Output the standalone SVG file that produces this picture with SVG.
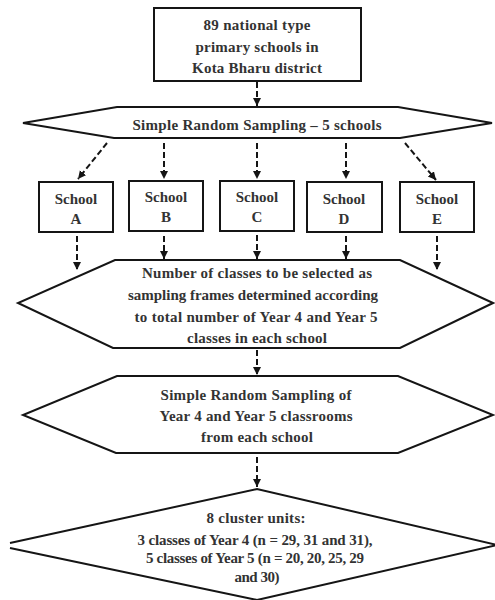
<svg xmlns="http://www.w3.org/2000/svg" width="495" height="600" viewBox="0 0 495 600">
<style>
.s{fill:#fff;stroke:#151515;stroke-width:2}
.t{font-family:"Liberation Serif","Times New Roman",serif;font-weight:bold;font-size:15px;fill:#333;text-anchor:middle}
.c{fill:none;stroke:#151515;stroke-width:2;stroke-dasharray:6 3}
</style>
<defs>
<marker id="ah" markerUnits="userSpaceOnUse" markerWidth="10" markerHeight="10" refX="8" refY="4" orient="auto">
<path d="M0,0 L8,4 L0,8 Z" fill="#151515"/>
</marker>
</defs>
<rect width="495" height="600" fill="#fff"/>
<g id="connectors">
<line class="c" x1="257" y1="82" x2="257" y2="106" marker-end="url(#ah)"/>
<line class="c" x1="107" y1="143" x2="78" y2="179" marker-end="url(#ah)"/>
<line class="c" x1="164" y1="143" x2="164" y2="179" marker-end="url(#ah)"/>
<line class="c" x1="257" y1="143" x2="257" y2="179" marker-end="url(#ah)"/>
<line class="c" x1="346" y1="143" x2="346" y2="179" marker-end="url(#ah)"/>
<line class="c" x1="405" y1="143" x2="436" y2="180" marker-end="url(#ah)"/>
<line class="c" x1="77" y1="236" x2="77" y2="270" marker-end="url(#ah)"/>
<line class="c" x1="164" y1="236" x2="164" y2="259" marker-end="url(#ah)"/>
<line class="c" x1="257" y1="235" x2="257" y2="259" marker-end="url(#ah)"/>
<line class="c" x1="346" y1="236" x2="346" y2="259" marker-end="url(#ah)"/>
<line class="c" x1="437" y1="236" x2="437" y2="270" marker-end="url(#ah)"/>
<line class="c" x1="257" y1="350" x2="257" y2="375" marker-end="url(#ah)"/>
<line class="c" x1="257" y1="457" x2="257" y2="487" marker-end="url(#ah)"/>
</g>
<g id="population">
<rect class="s" x="154" y="8" width="207" height="73"/>
<text class="t" x="257" y="30" textLength="107" lengthAdjust="spacing">89 national type</text>
<text class="t" x="257" y="52" textLength="123" lengthAdjust="spacing">primary schools in</text>
<text class="t" x="257" y="73" textLength="130" lengthAdjust="spacing">Kota Bharu district</text>
</g>
<g id="srs1">
<polygon class="s" points="117,107 398,107 492,123 400,138 114,138 23,123"/>
<text class="t" x="257" y="130" textLength="249" lengthAdjust="spacing">Simple Random Sampling – 5 schools</text>
</g>
<g id="schoolA">
<rect class="s" x="39" y="182" width="74" height="50"/>
<text class="t" x="76" y="204">School</text>
<text class="t" x="76" y="224">A</text>
</g>
<g id="schoolB">
<rect class="s" x="129" y="181" width="74" height="50"/>
<text class="t" x="166" y="202">School</text>
<text class="t" x="166" y="222">B</text>
</g>
<g id="schoolC">
<rect class="s" x="220" y="181" width="74" height="50"/>
<text class="t" x="257" y="202">School</text>
<text class="t" x="257" y="222">C</text>
</g>
<g id="schoolD">
<rect class="s" x="307" y="182" width="75" height="50"/>
<text class="t" x="344" y="204">School</text>
<text class="t" x="344" y="224">D</text>
</g>
<g id="schoolE">
<rect class="s" x="400" y="182" width="74" height="50"/>
<text class="t" x="437" y="204">School</text>
<text class="t" x="437" y="224">E</text>
</g>
<g id="frames">
<polygon class="s" points="115,260 400,260 493,303 400,348 113,348 18,303"/>
<text class="t" x="257" y="278" textLength="230" lengthAdjust="spacing">Number of classes to be selected as</text>
<text class="t" x="253" y="300" textLength="250" lengthAdjust="spacing">sampling frames determined according</text>
<text class="t" x="256" y="322" textLength="243" lengthAdjust="spacing">to total number of Year 4 and Year 5</text>
<text class="t" x="257" y="343" textLength="140" lengthAdjust="spacing">classes in each school</text>
</g>
<g id="srs2">
<polygon class="s" points="117,376 398,376 493,415 398,453 116,453 23,415"/>
<text class="t" x="256" y="400" textLength="191" lengthAdjust="spacing">Simple Random Sampling of</text>
<text class="t" x="256" y="421" textLength="193" lengthAdjust="spacing">Year 4 and Year 5 classrooms</text>
<text class="t" x="257" y="442" textLength="112" lengthAdjust="spacing">from each school</text>
</g>
<g id="clusters">
<path class="s" d="M10,543 L257,489 L497,545 L257,600 L10,548"/>
<text class="t" x="256" y="523" textLength="99" lengthAdjust="spacing">8 cluster units:</text>
<text class="t" x="255" y="545" textLength="235" lengthAdjust="spacing">3 classes of Year 4 (n = 29, 31 and 31),</text>
<text class="t" x="255" y="563" textLength="218" lengthAdjust="spacing">5 classes of Year 5 (n = 20, 20, 25, 29</text>
<text class="t" x="257" y="582" textLength="45" lengthAdjust="spacing">and 30)</text>
</g>
</svg>
